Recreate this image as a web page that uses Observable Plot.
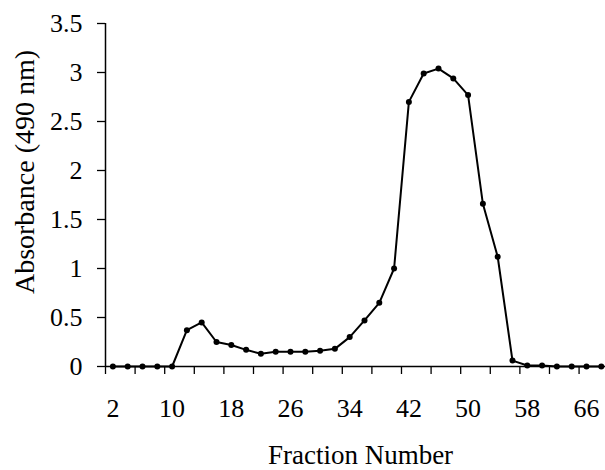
<!DOCTYPE html>
<html>
<head>
<meta charset="utf-8">
<script src="https://cdn.jsdelivr.net/npm/d3@7"></script>
<script src="https://cdn.jsdelivr.net/npm/@observablehq/plot@0.6"></script>
<style>
  html, body { margin: 0; padding: 0; background: #fff; }
  #chart svg { display: block; }
</style>
</head>
<body>
<div id="chart"></div>
<script>
// Data
const fractions = [2,4,6,8,10,12,14,16,18,20,22,24,26,28,30,32,34,36,38,40,42,44,46,48,50,52,54,56,58,60,62,64,66,68];
const absorbance = [0,0,0,0,0,0.37,0.45,0.25,0.22,0.17,0.13,0.15,0.15,0.15,0.16,0.18,0.30,0.47,0.65,1.0,2.70,2.99,3.04,2.94,2.77,1.66,1.12,0.06,0.01,0.01,0,0,0,0];
const xTickLabels = [2,10,18,26,34,42,50,58,66];
const xTickMarks = [1,5,9,13,17,21,25,29,33,37,41,45,49,53,57,61,65];
const yTicks = [0,0.5,1,1.5,2,2.5,3,3.5];
const xTitle = "Fraction Number";
const yTitle = "Absorbance (490 nm)";

const data = fractions.map((f, i) => ({fraction: f, value: absorbance[i]}));

const chart = Plot.plot({
  width: 605,
  height: 470,
  marginLeft: 105,
  marginRight: 0,
  marginTop: 23,
  marginBottom: 104,
  style: {fontFamily: "'Liberation Serif', 'Times New Roman', serif", color: "#000", background: "#fff", overflow: "visible"},
  x: {type: "linear", domain: [1, 68.57]},
  y: {domain: [0, 3.5]},
  marks: [
    Plot.axisX({ticks: xTickMarks, tickSize: 8, tickFormat: () => "", label: null, stroke: "#000", strokeWidth: 1.3}),
    Plot.axisX({ticks: xTickLabels, tickSize: 0, tickPadding: 32, fontSize: 26, label: null, fill: "#000"}),
    Plot.axisY({ticks: yTicks, tickSize: 8, tickPadding: 15, fontSize: 26, tickFormat: d => String(d), label: null, stroke: "#000", fill: "#000", strokeWidth: 1.3}),
    Plot.ruleY([0], {stroke: "#000", strokeWidth: 1.5}),
    Plot.ruleX([1], {stroke: "#000", strokeWidth: 1.5}),
    Plot.line(data, {x: "fraction", y: "value", stroke: "#000", strokeWidth: 2}),
    Plot.dot(data, {x: "fraction", y: "value", fill: "#000", r: 3, symbol: "circle"}),
    Plot.text([xTitle], {text: d => d, frameAnchor: "bottom", textAnchor: "middle", lineAnchor: "bottom", dy: 97, dx: 5, fontSize: 27, fill: "#000"}),
    Plot.text([yTitle], {text: d => d, frameAnchor: "left", textAnchor: "middle", lineAnchor: "bottom", rotate: -90, dx: -72, dy: -23, fontSize: 28, fill: "#000"})
  ]
});
document.getElementById("chart").appendChild(chart);
</script>
</body>
</html>
